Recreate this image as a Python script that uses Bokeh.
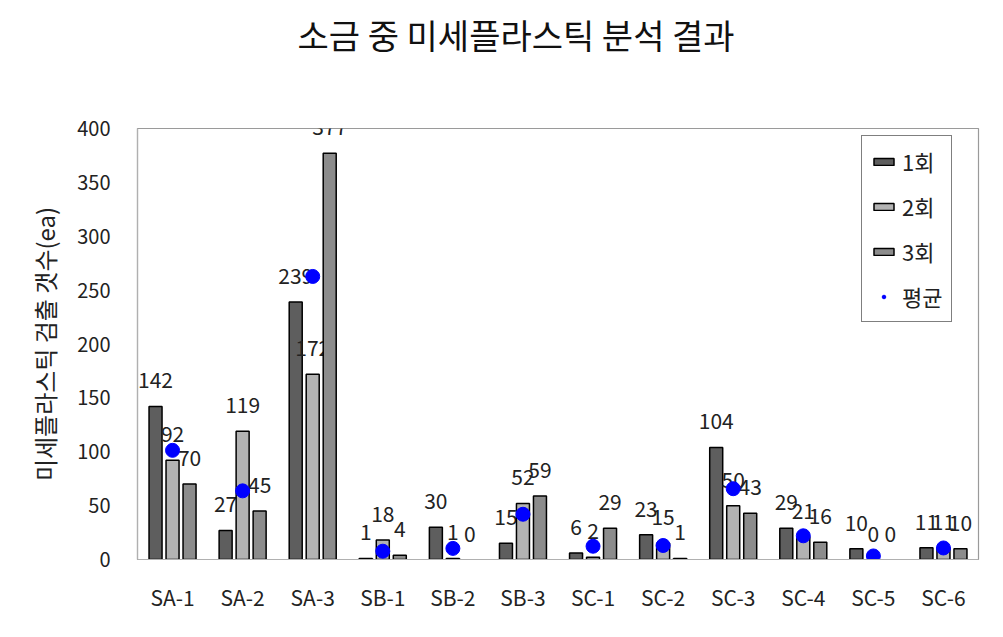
from bokeh.plotting import figure
from bokeh.models import ColumnDataSource, Range1d, FixedTicker, Legend, LegendItem, Title
from bokeh.embed import file_html
from bokeh.resources import INLINE
from bokeh.core.properties import value

samples = ["SA-1", "SA-2", "SA-3", "SB-1", "SB-2", "SB-3",
           "SC-1", "SC-2", "SC-3", "SC-4", "SC-5", "SC-6"]
run1 = [142, 27, 239, 1, 30, 15, 6, 23, 104, 29, 10, 11]
run2 = [92, 119, 172, 18, 1, 52, 2, 15, 50, 21, 0, 11]
run3 = [70, 45, 377, 4, 0, 59, 29, 1, 43, 16, 0, 10]
means = [101.3, 63.7, 262.7, 7.7, 10.3, 42.0, 12.3, 13.0, 65.7, 22.0, 3.3, 10.7]
series_names = ["1회", "2회", "3회"]
mean_name = "평균"
title_text = "소금 중 미세플라스틱 분석 결과"
y_label = "미세플라스틱 검출 갯수(ea)"
y_ticks = [0, 50, 100, 150, 200, 250, 300, 350, 400]

FONT = "Noto Sans CJK KR"
colors = ["#5e5e5e", "#b3b3b3", "#8c8c8c"]

p = figure(width=1003, height=637, output_backend="svg", toolbar_location=None,
           x_range=Range1d(0, len(samples)), y_range=Range1d(0, 400),
           min_border_left=137, min_border_right=25, min_border_top=128,
           min_border_bottom=78)
p.xgrid.visible = False
p.ygrid.visible = False
p.outline_line_color = "#9a9a9a"
p.outline_line_width = 1.2

# empty spacer panel between the title and the plot area
p.add_layout(Title(text=" ", text_font_size="10px", standoff=55), "above")

p.title.text = title_text
p.title.align = "left"
p.title.offset = 160
p.title.standoff = 0
p.title.vertical_align = "top"
p.title.text_font = FONT
p.title.text_font_size = "34px"
p.title.text_font_style = "normal"
p.title.text_color = "#111111"

step = 17 / 70.08
bw = 13 / 70.08
renderers = []
for k, vals in enumerate([run1, run2, run3]):
    xs = [i + 0.5 + (k - 1) * step for i in range(len(samples))]
    src = ColumnDataSource(dict(x=xs, top=vals,
                                la=[1.0 if v > 0 else 0.0 for v in vals],
                                lbl=[str(v) for v in vals]))
    r = p.vbar(x="x", top="top", width=bw, source=src, fill_color=colors[k],
               line_color="black", line_width=1.5, line_alpha="la")
    renderers.append(r)
    p.text(x="x", y="top", text="lbl", source=src, y_offset=-26,
           text_align="center", text_baseline="middle",
           text_font=value(FONT), text_font_size="21px", text_color="#222222")

msrc = ColumnDataSource(dict(x=[i + 0.5 for i in range(len(samples))], y=means))
mr = p.scatter(x="x", y="y", source=msrc, size=14, fill_color="#0000ff",
               line_color="#0000ff")

# axes
p.xaxis.ticker = FixedTicker(ticks=[i + 0.5 for i in range(len(samples))])
p.xaxis.major_label_overrides = {i + 0.5: s for i, s in enumerate(samples)}
p.xaxis.major_tick_line_color = None
p.xaxis.minor_tick_line_color = None
p.xaxis.axis_line_color = "#b0b0b0"
p.xaxis.axis_line_width = 1.2
p.xaxis.major_label_text_font = FONT
p.xaxis.major_label_text_font_size = "21px"
p.xaxis.major_label_text_color = "#222222"
p.xaxis.major_label_standoff = 16

p.yaxis.ticker = FixedTicker(ticks=y_ticks)
p.yaxis.major_tick_line_color = None
p.yaxis.minor_tick_line_color = None
p.yaxis.axis_line_color = "#b0b0b0"
p.yaxis.axis_line_width = 1.2
p.yaxis.major_label_text_font = FONT
p.yaxis.major_label_text_font_size = "20px"
p.yaxis.major_label_text_color = "#222222"
p.yaxis.major_label_standoff = 21
p.yaxis.axis_label = y_label
p.yaxis.axis_label_text_font = FONT
p.yaxis.axis_label_text_font_size = "24px"
p.yaxis.axis_label_text_font_style = "normal"
p.yaxis.axis_label_text_color = "#222222"
p.yaxis.axis_label_standoff = 12

legend = Legend(items=[LegendItem(label=series_names[0], renderers=[renderers[0]]),
                       LegendItem(label=series_names[1], renderers=[renderers[1]]),
                       LegendItem(label=series_names[2], renderers=[renderers[2]]),
                       LegendItem(label=mean_name, renderers=[mr])],
                location=(724, 237))
legend.border_line_color = "black"
legend.border_line_width = 1.5
legend.label_text_font = FONT
legend.label_text_font_size = "22px"
legend.label_text_color = "#222222"
legend.glyph_width = 25
legend.glyph_height = 9
legend.label_height = 28
legend.spacing = 13
legend.padding = 9
legend.label_standoff = 6
legend.margin = 0
p.add_layout(legend)

open("out.html", "w").write(file_html(p, INLINE))
